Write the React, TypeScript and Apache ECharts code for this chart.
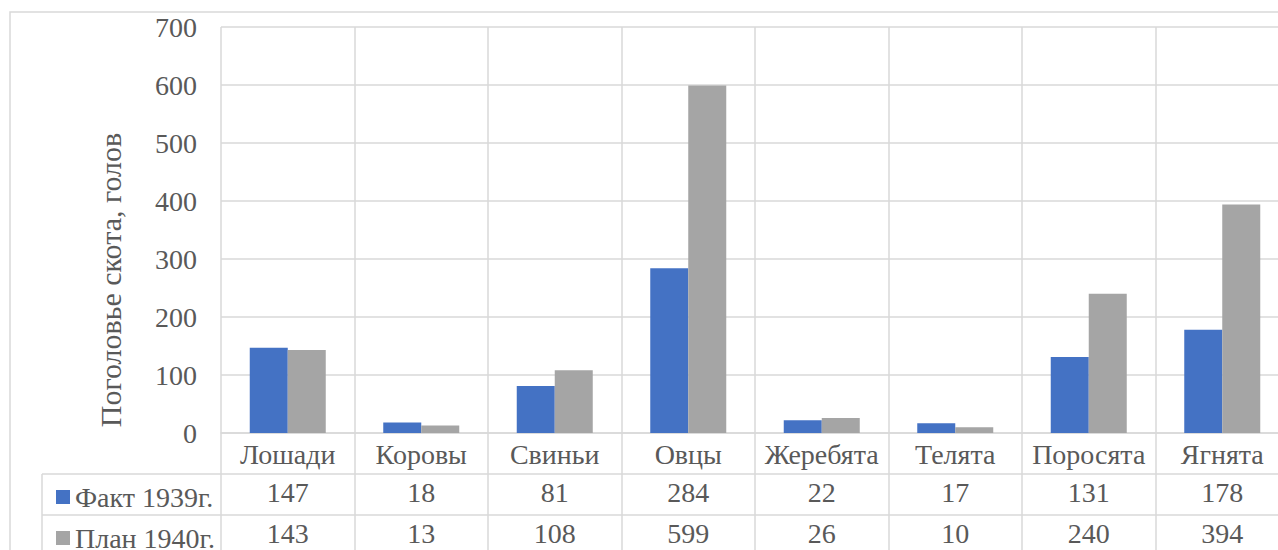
import React, { useEffect, useRef } from "react";
import * as echarts from "echarts";

const categories = ["Лошади", "Коровы", "Свиньи", "Овцы", "Жеребята", "Телята", "Поросята", "Ягнята"];
const seriesNames = ["Факт 1939г.", "План 1940г."];
const fact1939 = [147, 18, 81, 284, 22, 17, 131, 178];
const plan1940 = [143, 13, 108, 599, 26, 10, 240, 394];
const yTicks = { min: 0, max: 700, interval: 100 };
const yTitle = "Поголовье скота, голов";

const FONT = '"Liberation Serif", "Times New Roman", serif';
const FS = 28;
const TEXT = "#595959";
const LINE = "#d9d9d9";

const W = 1300;
const H = 560;
const GRID_LEFT = 221;
const GRID_TOP = 27;
const GRID_RIGHT_X = 1289;
const AXIS_Y = 433;
const ROW_H = 41;
const TABLE_LEFT = 42;

export default function App() {
  const ref = useRef<HTMLDivElement>(null);
  useEffect(() => {
    if (!ref.current) return;
    const chart = echarts.init(ref.current, null, { renderer: "svg" });
    const labelStyle = { fontFamily: FONT, fontSize: FS, color: TEXT };
    const tableAxis = (vals: number[], idx: number) => ({
      type: "category",
      gridIndex: 0,
      position: "bottom",
      offset: ROW_H * idx,
      data: vals.map(String),
      axisLine: { show: false },
      axisTick: { show: false },
      splitLine: { show: false },
      axisLabel: { ...labelStyle, margin: 4, interval: 0 },
    });
    chart.setOption({
      animation: false,
      backgroundColor: "#fff",
      grid: {
        left: GRID_LEFT,
        top: GRID_TOP,
        right: W - GRID_RIGHT_X,
        bottom: H - AXIS_Y,
        containLabel: false,
      },
      legend: {
        orient: "vertical",
        left: 51,
        top: AXIS_Y + ROW_H + 4,
        icon: "rect",
        itemWidth: 14,
        itemHeight: 14,
        itemGap: 13,
        data: seriesNames,
        textStyle: { fontFamily: FONT, fontSize: FS, color: TEXT, lineHeight: 28 },
      },
      xAxis: [
        {
          type: "category",
          data: categories,
          position: "bottom",
          axisLine: { show: true, lineStyle: { color: LINE, width: 1.5 } },
          axisTick: { show: true, length: H - AXIS_Y, lineStyle: { color: LINE, width: 1.5 } },
          splitLine: { show: true, lineStyle: { color: LINE, width: 1.5 } },
          axisLabel: { ...labelStyle, margin: 7, interval: 0 },
        },
        tableAxis(fact1939, 1),
        tableAxis(plan1940, 2),
      ],
      yAxis: {
        type: "value",
        min: yTicks.min,
        max: yTicks.max,
        interval: yTicks.interval,
        axisLine: { show: false },
        axisTick: { show: false },
        splitLine: { show: true, lineStyle: { color: LINE, width: 1.5 } },
        axisLabel: { ...labelStyle, margin: 24 },
      },
      series: [
        {
          name: seriesNames[0],
          type: "bar",
          data: fact1939,
          barWidth: 38,
          barGap: "0%",
          itemStyle: { color: "#4472C4" },
        },
        {
          name: seriesNames[1],
          type: "bar",
          data: plan1940,
          barWidth: 38,
          barGap: "0%",
          itemStyle: { color: "#A5A5A5" },
        },
      ],
      graphic: [
        {
          type: "rect",
          silent: true,
          shape: { x: 10, y: 12, width: W, height: H },
          style: { fill: "none", stroke: LINE, lineWidth: 1.5 },
        },
        {
          type: "line",
          silent: true,
          shape: { x1: TABLE_LEFT, y1: AXIS_Y + ROW_H, x2: GRID_RIGHT_X, y2: AXIS_Y + ROW_H },
          style: { stroke: LINE, lineWidth: 1.5 },
        },
        {
          type: "line",
          silent: true,
          shape: { x1: TABLE_LEFT, y1: AXIS_Y + ROW_H * 2, x2: GRID_RIGHT_X, y2: AXIS_Y + ROW_H * 2 },
          style: { stroke: LINE, lineWidth: 1.5 },
        },
        {
          type: "line",
          silent: true,
          shape: { x1: TABLE_LEFT, y1: AXIS_Y + ROW_H, x2: TABLE_LEFT, y2: H },
          style: { stroke: LINE, lineWidth: 1.5 },
        },
        {
          type: "text",
          silent: true,
          x: 110,
          y: 280,
          rotation: Math.PI / 2,
          style: {
            text: yTitle,
            fontFamily: FONT,
            fontSize: 30,
            fill: TEXT,
            align: "center",
            verticalAlign: "middle",
          },
        },
      ],
    });
    return () => chart.dispose();
  }, []);
  return (
    <div style={{ position: "fixed", left: 0, top: 0, width: 1278, height: 550, overflow: "hidden", background: "#fff" }}>
      <div ref={ref} style={{ width: W, height: H }} />
    </div>
  );
}
